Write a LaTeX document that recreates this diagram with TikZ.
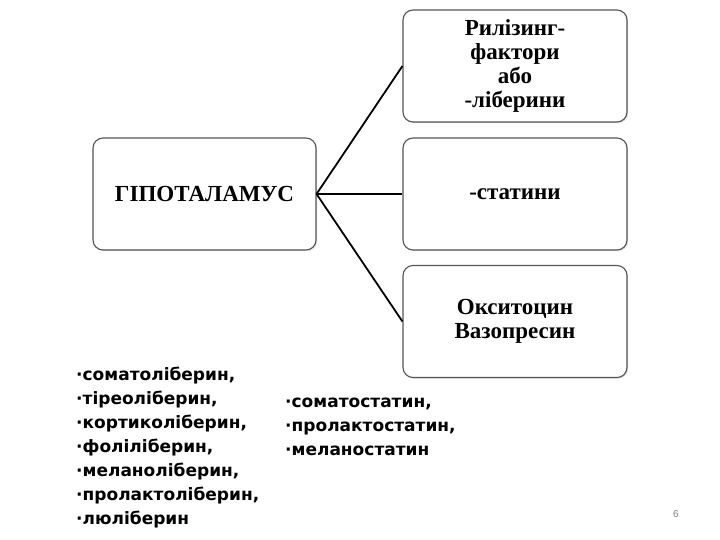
\documentclass[tikz,border=0pt]{standalone}
\usepackage{fontspec}
\setmainfont{Liberation Serif}
\newfontfamily\listfont{DejaVu Sans}
\newfontfamily\numfont{Liberation Sans}
\usetikzlibrary{shadows}
\definecolor{boxline}{RGB}{85,85,85}
\tikzset{
  box/.style={draw=boxline, line width=1.1pt, rounded corners=10pt, fill=white,
    minimum width=223pt, minimum height=112pt, align=center,
    font=\fontsize{23}{24}\selectfont\bfseries,
    drop shadow={opacity=0.25, shadow xshift=1.2pt, shadow yshift=-1.2pt}},
  link/.style={line width=1.8pt, black},
  listtext/.style={align=left, inner sep=0pt, font=\listfont\fontsize{17}{24}\selectfont\bfseries}
}
\begin{document}
\begin{tikzpicture}[x=1pt,y=-1pt]
\useasboundingbox (0,0) rectangle (720,540);
\node[box] (hyp) at (204.5,194) {ГІПОТАЛАМУС};
\node[box, minimum width=224pt] (rf) at (515,66) {Рилізинг-\\фактори\\або\\-ліберини};
\node[box, minimum width=224pt] (st) at (515,194) {-статини};
\node[box, minimum width=224pt] (ox) at (515,321.5) {Окситоцин\\Вазопресин};
\draw[link] (hyp.east) -- (rf.west);
\draw[link] (hyp.east) -- (st.west);
\draw[link] (hyp.east) -- (ox.west);
\node[listtext, anchor=north west] (lib) at (76,367) {·соматоліберин,\\·тіреоліберин,\\·кортиколіберин,\\·фоліліберин,\\·меланоліберин,\\·пролактоліберин,\\·люліберин};
\node[listtext, anchor=north west] (stat) at (285,398) {·соматостатин,\\·пролактостатин,\\·меланостатин};
\node[font=\numfont\fontsize{10}{12}\selectfont, text=gray, anchor=base] (pg) at (676,517) {6};
\end{tikzpicture}
\end{document}
